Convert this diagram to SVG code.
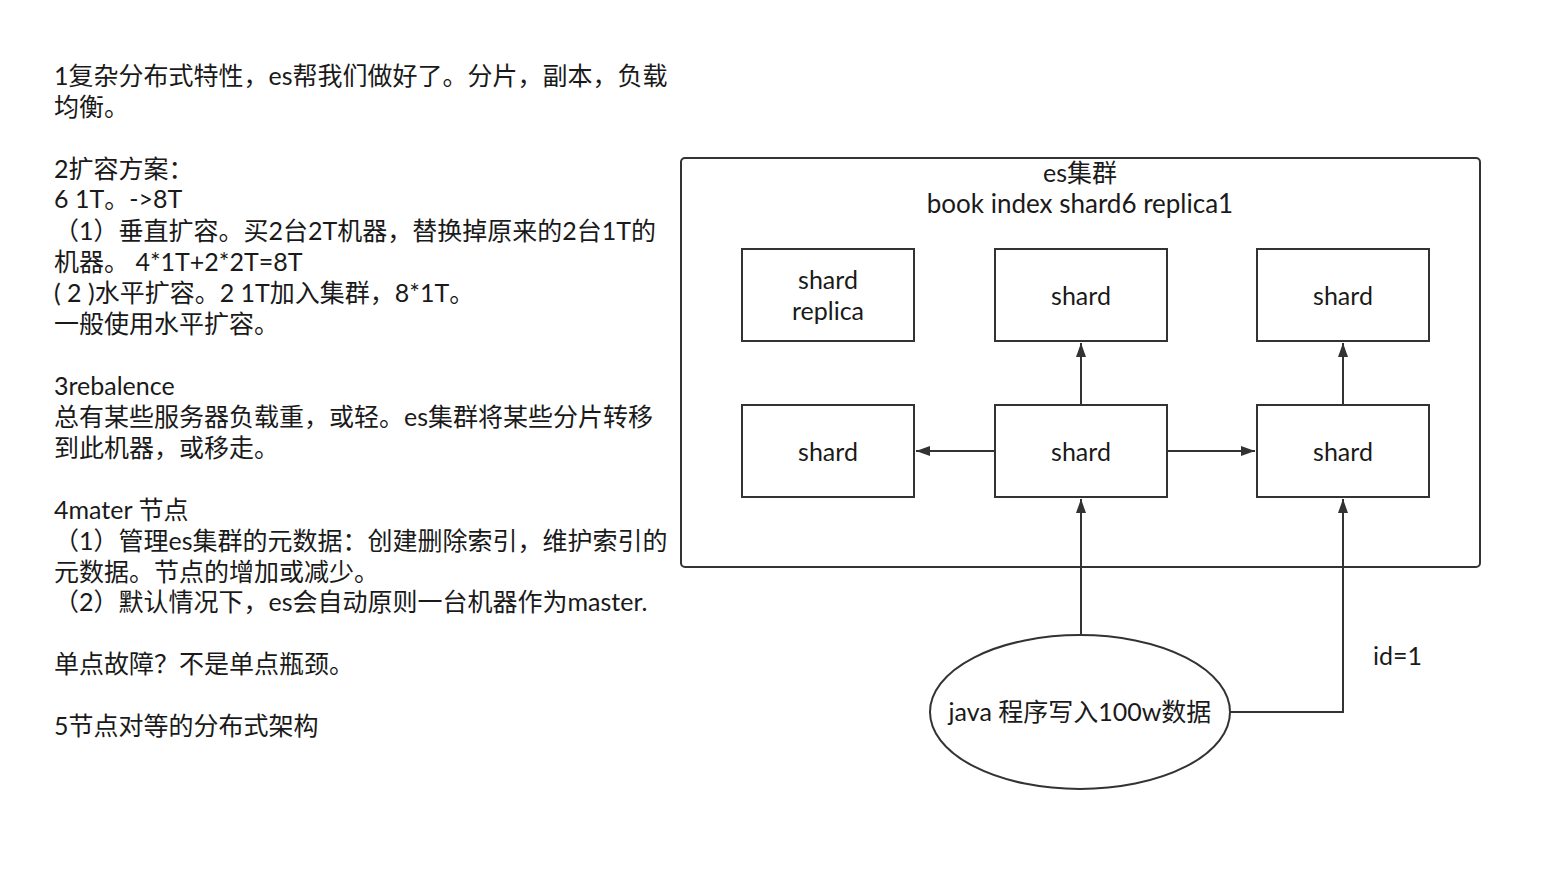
<svg xmlns="http://www.w3.org/2000/svg" width="1542" height="891" viewBox="0 0 1542 891">
<style>
text{font-family:Lato,"Noto Sans CJK SC",sans-serif;font-size:25px;fill:#1a1a1a}
.c{text-anchor:middle}
.t{font-size:26px}
.box{fill:#fff;stroke:#333;stroke-width:2}
.ln{fill:none;stroke:#333;stroke-width:2}
</style>
<defs>
<marker id="ah" viewBox="0 0 14 10" refX="14" refY="5" markerWidth="14" markerHeight="10" markerUnits="userSpaceOnUse" orient="auto">
<path d="M0,0 L14,5 L0,10 z" fill="#333"/>
</marker>
</defs>
<rect width="1542" height="891" fill="#fff"/>
<g id="notes">
<text x="54" y="85">1复杂分布式特性，es帮我们做好了。分片，副本，负载</text>
<text x="54" y="116">均衡。</text>
<text x="54" y="178">2扩容方案：</text>
<text x="54" y="208">6 1T。-&gt;8T</text>
<text x="54" y="240">（1）垂直扩容。买2台2T机器，替换掉原来的2台1T的</text>
<text x="54" y="271">机器。 4*1T+2*2T=8T</text>
<text x="54" y="302">( 2 )水平扩容。2 1T加入集群，8*1T。</text>
<text x="54" y="333">一般使用水平扩容。</text>
<text x="54" y="395">3rebalence</text>
<text x="54" y="426">总有某些服务器负载重，或轻。es集群将某些分片转移</text>
<text x="54" y="457">到此机器，或移走。</text>
<text x="54" y="519">4mater 节点</text>
<text x="54" y="550">（1）管理es集群的元数据：创建删除索引，维护索引的</text>
<text x="54" y="581">元数据。节点的增加或减少。</text>
<text x="54" y="611">（2）默认情况下，es会自动原则一台机器作为master.</text>
<text x="54" y="673">单点故障？不是单点瓶颈。</text>
<text x="54" y="735">5节点对等的分布式架构</text>
</g>
<g id="cluster">
<rect class="box" x="681" y="158" width="799" height="409" rx="4"/>
<text class="c" x="1080" y="182">es集群</text>
<text class="c t" x="1080" y="213">book index shard6 replica1</text>
</g>
<g id="shard-replica">
<rect class="box" x="742" y="249" width="172" height="92"/>
<text class="c" x="828" y="289">shard</text>
<text class="c" x="828" y="320">replica</text>
</g>
<g id="shard-top-mid">
<rect class="box" x="995" y="249" width="172" height="92"/>
<text class="c" x="1081" y="305">shard</text>
</g>
<g id="shard-top-right">
<rect class="box" x="1257" y="249" width="172" height="92"/>
<text class="c" x="1343" y="305">shard</text>
</g>
<g id="shard-bot-left">
<rect class="box" x="742" y="405" width="172" height="92"/>
<text class="c" x="828" y="461">shard</text>
</g>
<g id="shard-bot-mid">
<rect class="box" x="995" y="405" width="172" height="92"/>
<text class="c" x="1081" y="461">shard</text>
</g>
<g id="shard-bot-right">
<rect class="box" x="1257" y="405" width="172" height="92"/>
<text class="c" x="1343" y="461">shard</text>
</g>
<g id="java">
<ellipse class="box" cx="1080" cy="712" rx="150" ry="77"/>
<text class="c" x="1080" y="721">java 程序写入100w数据</text>
</g>
<g id="connectors">
<path class="ln" d="M1081,405 L1081,343" marker-end="url(#ah)"/>
<path class="ln" d="M1343,405 L1343,343" marker-end="url(#ah)"/>
<path class="ln" d="M995,451 L916,451" marker-end="url(#ah)"/>
<path class="ln" d="M1167,451 L1255,451" marker-end="url(#ah)"/>
<path class="ln" d="M1081,635 L1081,499" marker-end="url(#ah)"/>
<path class="ln" d="M1230,712 L1343,712 L1343,499" marker-end="url(#ah)"/>
<text x="1373" y="665">id=1</text>
</g>
</svg>
